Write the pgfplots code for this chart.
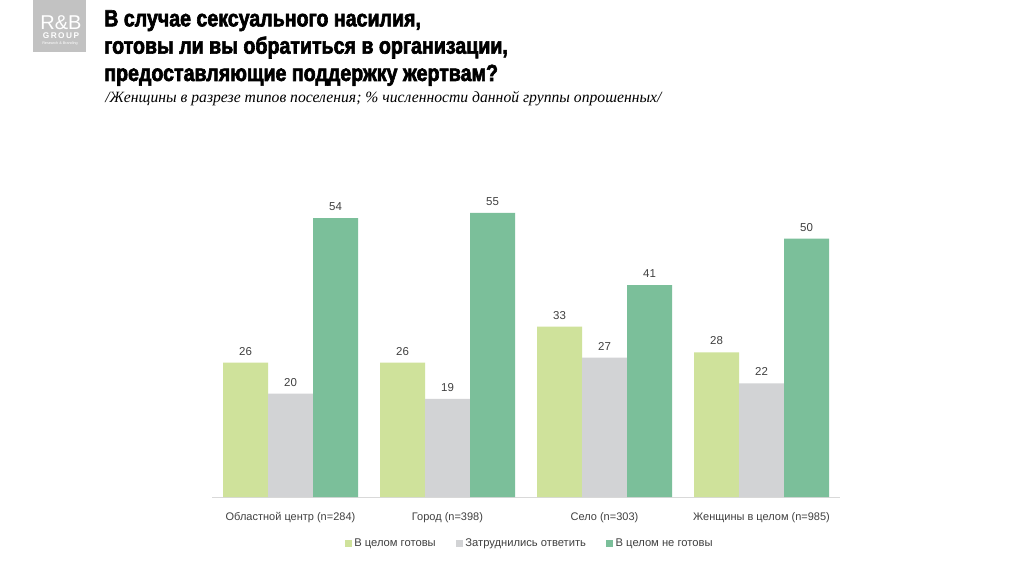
\documentclass[border=0pt]{standalone}
\usepackage{pgfplots}
\pgfplotsset{compat=1.18}
\usepackage{fontspec}
\setmainfont{Liberation Sans}
\newfontfamily\titlefont[FakeStretch=0.84,BoldFeatures={FakeBold=2.6}]{Liberation Sans}
\newfontfamily\subfont{Liberation Serif}
\newfontfamily\logofont[LetterSpace=18]{Liberation Sans}
\definecolor{cA}{HTML}{CFE29B}
\definecolor{cB}{HTML}{D2D3D5}
\definecolor{cC}{HTML}{7BBF9A}
\definecolor{txt}{HTML}{404040}
\definecolor{logo}{HTML}{C2C2C2}
\begin{document}
\begin{tikzpicture}
\path[use as bounding box, fill=white] (0,0) rectangle (768pt,420.75pt);
\begin{scope}[x=0.75pt,y=0.75pt]
% logo
\fill[logo] (33,561) rectangle (86,509);
\node[white, font=\fontsize{15}{15}\selectfont, inner sep=0] at (61,538.5) {R\&B};
\node[white, font=\logofont\bfseries\fontsize{6.2}{6.2}\selectfont, inner sep=0] at (61,525.5) {GROUP};
\node[white, font=\fontsize{2.8}{2.8}\selectfont, inner sep=0] at (60,517) {Research \& Branding};
% title
\node[anchor=north west, inner sep=0, align=left, font=\titlefont\bfseries\fontsize{17.5}{20.5}\selectfont, text=black] at (104,551)
 {В случае сексуального насилия,\\готовы ли вы обратиться в организации,\\предоставляющие поддержку жертвам?};
\node[anchor=base west, inner sep=0, font=\subfont\itshape\fontsize{11.75}{11.75}\selectfont, text=black] at (105,458)
 {/Женщины в разрезе типов поселения; \% численности данной группы опрошенных/};
\end{scope}
\begin{axis}[
  at={(159pt,48pt)}, anchor=south west,
  scale only axis, width=471pt, height=232.5pt,
  xmin=-0.5, xmax=3.5, ymin=0, ymax=60,
  ybar=0pt, bar width=33.75pt,
  axis x line*=bottom, axis y line=none,
  x axis line style={draw=black!15, line width=0.6pt},
  xtick={0,1,2,3}, major tick length=0pt,
  xticklabels={Областной центр (n=284), Город (n=398), Село (n=303), Женщины в целом (n=985)},
  xticklabel style={font=\fontsize{8.25}{10}\selectfont, text=txt, yshift=-8pt},
  /pgf/number format/assume math mode=true,
  nodes near coords,
  every node near coord/.append style={font=\fontsize{8.6}{10}\selectfont, text=txt, yshift=2pt},
  legend style={at={(0.5,-0.115)}, anchor=north, xshift=3pt, legend columns=3, draw=none, fill=none,
    font=\fontsize{8.4}{10}\selectfont, text=txt,
    /tikz/every even column/.append style={column sep=13pt}},
  legend cell align=left,
]
\addplot[fill=cA, draw=none, legend image code/.code={\fill[cA] (0pt,-2.6pt) rectangle (5.2pt,2.6pt);}] coordinates {(0,26) (1,26) (2,33) (3,28)};
\addplot[fill=cB, draw=none, legend image code/.code={\fill[cB] (0pt,-2.6pt) rectangle (5.2pt,2.6pt);}] coordinates {(0,20) (1,19) (2,27) (3,22)};
\addplot[fill=cC, draw=none, legend image code/.code={\fill[cC] (0pt,-2.6pt) rectangle (5.2pt,2.6pt);}] coordinates {(0,54) (1,55) (2,41) (3,50)};
\legend{В целом готовы, Затруднились ответить, В целом не готовы}
\end{axis}
\end{tikzpicture}
\end{document}
